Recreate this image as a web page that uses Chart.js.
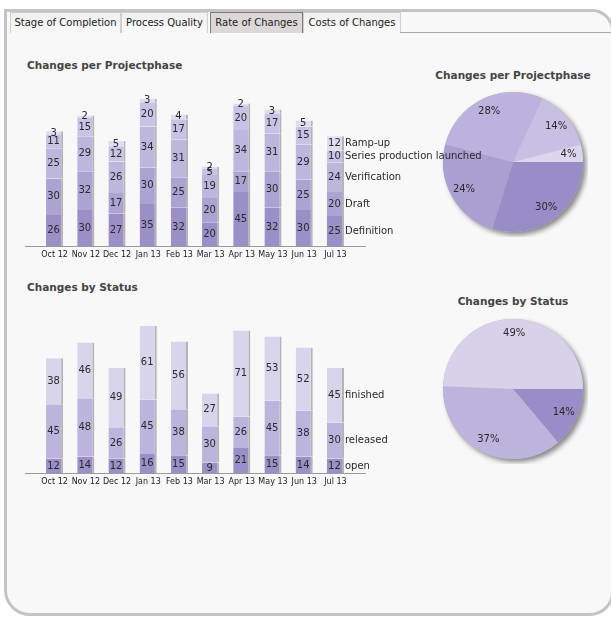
<!DOCTYPE html>
<html>
<head>
<meta charset="utf-8">
<script src="https://cdn.jsdelivr.net/npm/chart.js@4.4.0/dist/chart.umd.min.js"></script>
<style>
  body { margin: 0; background: #fff; font-family: 'DejaVu Sans', sans-serif; width: 611px; height: 617px; overflow: hidden; position: relative; }
  .frame { position: absolute; left: 4px; top: 9px; width: 604px; height: 601px; border: 3px solid #c4c4c4; border-radius: 0 22px 24px 26px; background: #f8f8f8; }
  .tab { position: absolute; top: 12px; font-size: 10px; line-height: 19px; color: #222; text-align: center; border: 1px solid #cfcfcf; border-bottom: none; background: linear-gradient(#f0f0f0, #f9f9f9); box-sizing: border-box; height: 21px; }
  .tab._active { background: #dcd8d8; border: 1px solid #7a7a7a; border-bottom: none; }
  .tabline { position: absolute; left: 400px; right: 0; top: 32px; height: 1px; background: #a8a8a8; }
  .title { position: absolute; font-size: 10.5px; font-weight: bold; color: #444; white-space: nowrap; }
  .ptitle { position: absolute; width: 200px; left: 413px; text-align: center; font-size: 10.5px; font-weight: bold; color: #444; }
  canvas { position: absolute; }
</style>
</head>
<body>
<div class="frame"></div>
<div class="tab" style="left:10px;width:111px;">Stage of Completion</div>
<div class="tab" style="left:121px;width:87px;">Process Quality</div>
<div class="tab _active" style="left:210px;width:93px;">Rate of Changes</div>
<div class="tab" style="left:303px;width:98px;">Costs of Changes</div>
<div class="tabline"></div>

<div class="title" style="left:27px;top:59px;">Changes per Projectphase</div>
<div class="ptitle" style="top:69px;">Changes per Projectphase</div>
<div class="title" style="left:27px;top:281px;">Changes by Status</div>
<div class="ptitle" style="top:295px;">Changes by Status</div>

<canvas id="pie_1" width="150" height="150" style="left:438px;top:87px;"></canvas>
<canvas id="pie_2" width="150" height="150" style="left:438px;top:314px;"></canvas>
<canvas id="bars_1" width="480" height="180" style="left:20px;top:85px;"></canvas>
<canvas id="bars_2" width="480" height="180" style="left:20px;top:312px;"></canvas>

<script>
const months = ['Oct 12', 'Nov 12', 'Dec 12', 'Jan 13', 'Feb 13', 'Mar 13', 'Apr 13', 'May 13', 'Jun 13', 'Jul 13'];

// changes per projectphase
const definition = [26, 30, 27, 35, 32, 20, 45, 32, 30, 25];
const draft = [30, 32, 17, 30, 25, 20, 17, 30, 25, 20];
const verification = [25, 29, 26, 34, 31, 19, 34, 31, 29, 24];
const seriesLaunched = [11, 15, 12, 20, 17, 5, 20, 17, 15, 10];
const rampUp = [3, 2, 5, 3, 4, 2, 2, 3, 5, 12];

// changes by status
const statusOpen = [12, 14, 12, 16, 15, 9, 21, 15, 14, 12];
const statusReleased = [45, 48, 26, 45, 38, 30, 26, 45, 38, 30];
const statusFinished = [38, 46, 49, 61, 56, 27, 71, 53, 52, 45];

const FONT = 'DejaVu Sans';
const sum = arr => arr.reduce((a, b) => a + b, 0);

// value inside each segment + series name next to the last bar
const barLabels = {
  id: 'barLabels',
  afterDatasetsDraw(chart) {
    const ctx = chart.ctx;
    ctx.save();
    ctx.font = '10px "' + FONT + '"';
    ctx.fillStyle = '#2a2a2a';
    ctx.textBaseline = 'middle';
    chart.data.datasets.forEach((ds, i) => {
      const meta = chart.getDatasetMeta(i);
      meta.data.forEach((bar, j) => {
        const y = (bar.y + bar.base) / 2;
        ctx.textAlign = 'center';
        ctx.fillText(ds.data[j], bar.x - 1, y);
        if (j === meta.data.length - 1) {
          ctx.textAlign = 'left';
          ctx.fillText(ds.label, bar.x + bar.width / 2 + 1, y);
        }
      });
    });
    const y0 = Math.round(chart.scales.y.getPixelForValue(0)) + 0.5;
    ctx.strokeStyle = '#9a9a9a';
    ctx.lineWidth = 1;
    ctx.beginPath();
    ctx.moveTo(chart.chartArea.left - 14, y0);
    ctx.lineTo(chart.chartArea.right + 15, y0);
    ctx.stroke();
    ctx.restore();
  }
};

// drop shadow under the pie + percent labels
const pieExtras = {
  id: 'pieExtras',
  beforeDatasetsDraw(chart) {
    const arc = chart.getDatasetMeta(0).data[0];
    const ctx = chart.ctx;
    ctx.save();
    ctx.shadowColor = 'rgba(0,0,0,0.45)';
    ctx.shadowBlur = 5;
    ctx.shadowOffsetX = 3;
    ctx.shadowOffsetY = 3;
    ctx.fillStyle = '#bbb';
    ctx.beginPath();
    ctx.arc(arc.x, arc.y, arc.outerRadius, 0, Math.PI * 2);
    ctx.fill();
    ctx.restore();
  },
  afterDatasetsDraw(chart) {
    const meta = chart.getDatasetMeta(0);
    const values = chart.data.datasets[0].data;
    const total = sum(values);
    const ctx = chart.ctx;
    ctx.save();
    ctx.font = '10px "' + FONT + '"';
    ctx.fillStyle = '#2a2a2a';
    ctx.textAlign = 'center';
    ctx.textBaseline = 'middle';
    meta.data.forEach((arc, i) => {
      const mid = (arc.startAngle + arc.endAngle) / 2;
      const r = arc.outerRadius * 0.8;
      ctx.fillText(Math.round(values[i] / total * 100) + '%', arc.x + Math.cos(mid) * r, arc.y + Math.sin(mid) * r);
    });
    ctx.restore();
  }
};

function barDataset(label, data, color) {
  return {
    label: label,
    data: data,
    backgroundColor: color,
    borderColor: '#b4b4b4',
    borderWidth: { top: 0, left: 0, bottom: 0, right: 2 },
    borderSkipped: false,
    barPercentage: 0.55,
    categoryPercentage: 1
  };
}

function barOptions() {
  return {
    responsive: false,
    animation: false,
    layout: { padding: { top: 10, left: 19, right: 149, bottom: 1 } },
    plugins: { legend: { display: false }, tooltip: { enabled: false } },
    scales: {
      x: {
        stacked: true,
        grid: { display: false, drawTicks: false },
        border: { display: false },
        ticks: { autoSkip: false, maxRotation: 0, padding: 4, color: '#222', font: { family: FONT, size: 8 } }
      },
      y: { stacked: true, display: false, min: 0, max: 125 }
    }
  };
}

new Chart(document.querySelector('#bars_1').getContext('2d'), {
  type: 'bar',
  data: {
    labels: months,
    datasets: [
      barDataset('Definition', definition, '#9c8fc8'),
      barDataset('Draft', draft, '#ada3d3'),
      barDataset('Verification', verification, '#bfb6de'),
      barDataset('Series production launched', seriesLaunched, '#cac2e5'),
      barDataset('Ramp-up', rampUp, '#e0dcf0')
    ]
  },
  options: barOptions(),
  plugins: [barLabels]
});

new Chart(document.querySelector('#bars_2').getContext('2d'), {
  type: 'bar',
  data: {
    labels: months,
    datasets: [
      barDataset('open', statusOpen, '#9c8fc8'),
      barDataset('released', statusReleased, '#bdb4de'),
      barDataset('finished', statusFinished, '#d9d4eb')
    ]
  },
  options: barOptions(),
  plugins: [barLabels]
});

function pieOptions() {
  return {
    responsive: false,
    animation: false,
    rotation: 90,
    layout: { padding: 5 },
    plugins: { legend: { display: false }, tooltip: { enabled: false } }
  };
}

new Chart(document.querySelector('#pie_1').getContext('2d'), {
  type: 'pie',
  data: {
    labels: ['Definition', 'Draft', 'Verification', 'Series production launched', 'Ramp-up'],
    datasets: [{
      data: [sum(definition), sum(draft), sum(verification), sum(seriesLaunched), sum(rampUp)],
      backgroundColor: ['#9a8cc7', '#aa9fd1', '#bcb2dd', '#c8bfe3', '#dbd5ed'],
      borderWidth: 0
    }]
  },
  options: pieOptions(),
  plugins: [pieExtras]
});

new Chart(document.querySelector('#pie_2').getContext('2d'), {
  type: 'pie',
  data: {
    labels: ['open', 'released', 'finished'],
    datasets: [{
      data: [sum(statusOpen), sum(statusReleased), sum(statusFinished)],
      backgroundColor: ['#9a8cc7', '#bdb4de', '#d7d1ea'],
      borderWidth: 0
    }]
  },
  options: pieOptions(),
  plugins: [pieExtras]
});
</script>
</body>
</html>
